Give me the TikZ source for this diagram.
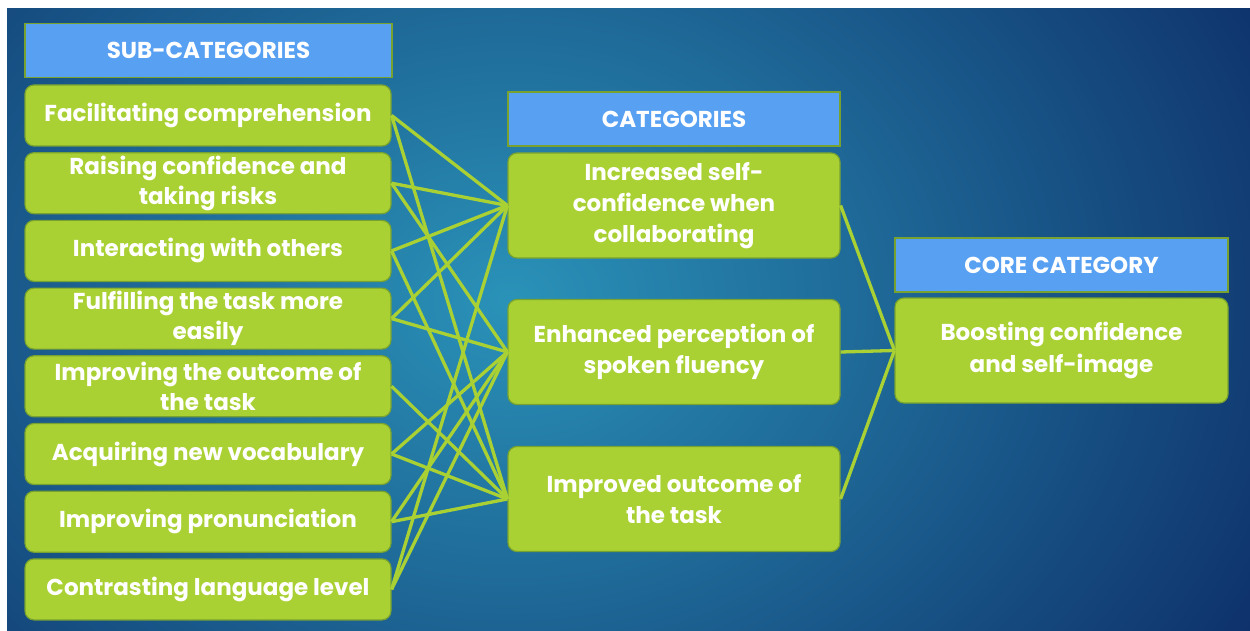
\documentclass[tikz,border=0pt]{standalone}
\usepackage{fontspec}
\setmainfont{Poppins}

\definecolor{boxgreen}{RGB}{170,209,52}
\definecolor{boxedge}{RGB}{120,162,48}
\definecolor{headblue}{RGB}{88,160,242}
\definecolor{bgteal}{RGB}{42,146,184}
\definecolor{bgnavy}{RGB}{11,38,98}

\begin{document}
\begin{tikzpicture}[x=1pt, y=-1pt,
        sub/.style={rectangle, rounded corners=9pt, draw=boxedge, line width=1.2pt, fill=boxgreen,
            text=white, font=\bfseries\fontsize{23}{30}\selectfont, align=center,
            minimum width=366pt, minimum height=61pt, inner sep=0pt},
        cat/.style={sub, minimum width=332pt, minimum height=105pt, font=\bfseries\fontsize{23}{31}\selectfont},
        head/.style={rectangle, draw=boxedge, line width=1.2pt, fill=headblue, text=white,
            font=\bfseries\fontsize{23}{26}\selectfont, minimum height=54pt, inner sep=0pt},
        link/.style={draw=boxgreen, line width=3.3pt}
    ]
        \useasboundingbox (0,0) rectangle (1250,631);
        \fill[white] (0,0) rectangle (1250,631);
        \begin{scope}
            \clip (7,9) rectangle (1250,631);
            \fill[bgnavy] (7,9) rectangle (1250,631);
            \shade[inner color=bgteal, outer color=bgnavy] (510,300) ellipse (950 and 760);
        \end{scope}

        % Sub-categories
        \node[head, minimum width=367pt] (subhead) at (208.5,50.5) {SUB-CATEGORIES};
        \node[sub] (s1) at (208,115.5) {Facilitating comprehension};
        \node[sub] (s2) at (208,183.2) {Raising confidence and\\taking risks};
        \node[sub] (s3) at (208,250.9) {Interacting with others};
        \node[sub] (s4) at (208,318.6) {Fulfilling the task more\\easily};
        \node[sub] (s5) at (208,386.3) {Improving the outcome of\\the task};
        \node[sub] (s6) at (208,454) {Acquiring new vocabulary};
        \node[sub] (s7) at (208,521.7) {Improving pronunciation};
        \node[sub] (s8) at (208,589.4) {Contrasting language level};

        % Categories
        \node[head, minimum width=332pt] (cathead) at (674,119) {CATEGORIES};
        \node[cat] (c1) at (674,205.5) {Increased self-\\confidence when\\collaborating};
        \node[cat] (c2) at (674,352) {Enhanced perception of\\spoken fluency};
        \node[cat] (c3) at (674,499) {Improved outcome of\\the task};

        % Core category
        \node[head, minimum width=333pt] (corehead) at (1061.5,265) {CORE CATEGORY};
        \node[cat, minimum width=333pt, font=\bfseries\fontsize{23}{32}\selectfont] (core) at (1061.5,350.5) {Boosting confidence\\and self-image};

        \draw[link] (s1.east) -- (c1.west);
        \draw[link] (s1.east) -- (c3.west);
        \draw[link] (s2.east) -- (c1.west);
        \draw[link] (s2.east) -- (c2.west);
        \draw[link] (s3.east) -- (c1.west);
        \draw[link] (s3.east) -- (c3.west);
        \draw[link] (s4.east) -- (c1.west);
        \draw[link] (s4.east) -- (c2.west);
        \draw[link] (s5.east) -- (c3.west);
        \draw[link] (s6.east) -- (c2.west);
        \draw[link] (s6.east) -- (c3.west);
        \draw[link] (s7.east) -- (c2.west);
        \draw[link] (s7.east) -- (c3.west);
        \draw[link] (s8.east) -- (c1.west);
        \draw[link] (s8.east) -- (c2.west);

        \draw[link] (c1.east) -- (core.west);
        \draw[link] (c2.east) -- (core.west);
        \draw[link] (c3.east) -- (core.west);
    \end{tikzpicture}
\end{document}
